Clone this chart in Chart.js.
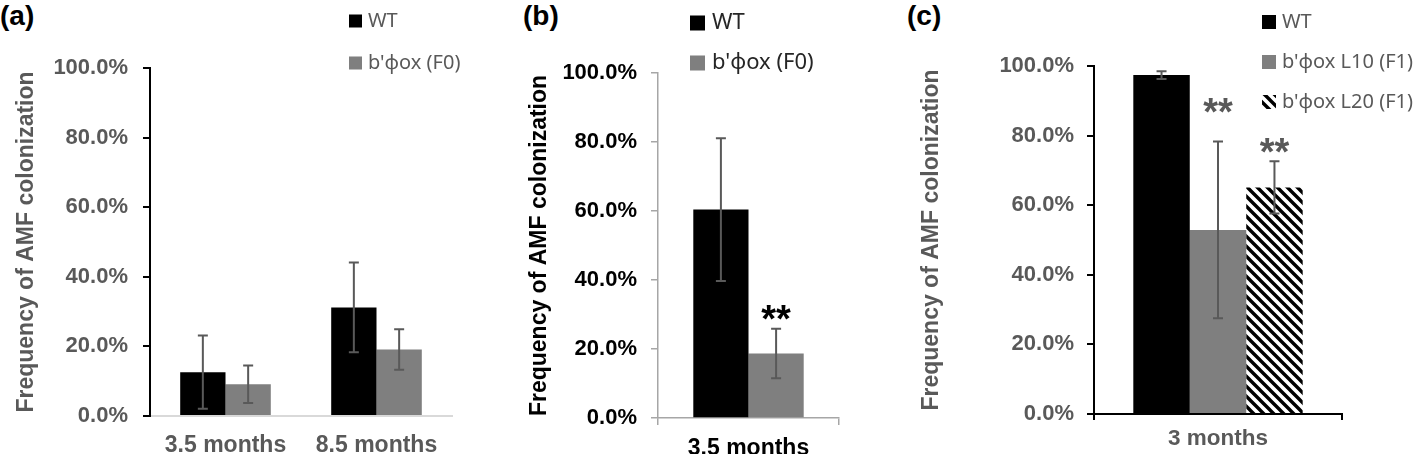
<!DOCTYPE html>
<html>
<head>
<meta charset="utf-8">
<script src="https://cdn.jsdelivr.net/npm/chart.js@4.4.1/dist/chart.umd.min.js"></script>
<style>
  body { margin: 0; background: #fff; width: 1417px; height: 454px; position: relative; overflow: hidden; }
  .panel { position: absolute; top: 0; height: 454px; }
  .panel canvas { display: block; }
  .tag { position: absolute; top: 0; font: bold 28px "Liberation Sans", Arial, sans-serif; color: #000; line-height: 32px; }
</style>
</head>
<body>
<div class="tag" style="left:0">(a)</div>
<div class="tag" style="left:523px">(b)</div>
<div class="tag" style="left:907px">(c)</div>
<div class="panel" style="left:0;width:500px"><canvas id="grafA" width="500" height="454"></canvas></div>
<div class="panel" style="left:510px;width:390px"><canvas id="grafB" width="390" height="454"></canvas></div>
<div class="panel" style="left:900px;width:517px"><canvas id="grafC" width="517" height="454"></canvas></div>
<script>
// etiquetas del eje y
const ticksY = ['0.0%', '20.0%', '40.0%', '60.0%', '80.0%', '100.0%'];
const tituloY = 'Frequency of AMF colonization';

// panel (a)
const categoriasA = ['3.5 months', '8.5 months'];
const wtA = [12.6, 31.2];
const wtErrA = [10.5, 12.9];
const f0A = [9.1, 19.1];
const f0ErrA = [5.4, 5.8];

// panel (b)
const categoriasB = ['3.5 months'];
const wtB = [60.4];
const wtErrB = [20.7];
const f0B = [18.7];
const f0ErrB = [7.2];
const sigF0B = ['**'];

// panel (c)
const categoriasC = ['3 months'];
const wtC = [97.4];
const wtErrC = [1.1];
const l10C = [52.9];
const l10ErrC = [25.4];
const l20C = [65.1];
const l20ErrC = [7.5];
const sigL10C = ['**'];
const sigL20C = ['**'];

// colores
const negro = '#000000';
const gris = '#7f7f7f';
const grisTexto = '#595959';

Chart.defaults.font.family = '"Liberation Sans", Arial, sans-serif';

// relleno rayado para L20
function rayado() {
  const c = document.createElement('canvas');
  c.width = 10; c.height = 10;
  const g = c.getContext('2d');
  g.fillStyle = '#fff';
  g.fillRect(0, 0, 10, 10);
  g.strokeStyle = '#000';
  g.lineWidth = 3.4;
  g.beginPath();
  g.moveTo(-5, -5); g.lineTo(15, 15);
  g.moveTo(-5, 5); g.lineTo(5, 15);
  g.moveTo(5, -5); g.lineTo(15, 5);
  g.stroke();
  return g.createPattern(c, 'repeat');
}

// barras de error
const barrasError = {
  id: 'barrasError',
  afterDatasetsDraw(chart, args, o) {
    const { ctx } = chart;
    const y = chart.scales.y;
    ctx.save();
    ctx.strokeStyle = o.color;
    ctx.lineWidth = 2;
    chart.data.datasets.forEach((ds, i) => {
      if (!ds.errores) return;
      chart.getDatasetMeta(i).data.forEach((bar, j) => {
        const v = ds.data[j], e = ds.errores[j];
        const y1 = y.getPixelForValue(v + e), y2 = y.getPixelForValue(v - e);
        const x = bar.x, c = 5;
        ctx.beginPath();
        ctx.moveTo(x, y1); ctx.lineTo(x, y2);
        ctx.moveTo(x - c, y1); ctx.lineTo(x + c, y1);
        ctx.moveTo(x - c, y2); ctx.lineTo(x + c, y2);
        ctx.stroke();
      });
    });
    ctx.restore();
  }
};

// asteriscos de significancia
const estrellas = {
  id: 'estrellas',
  afterDatasetsDraw(chart, args, o) {
    const { ctx } = chart;
    const y = chart.scales.y;
    ctx.save();
    ctx.fillStyle = o.color;
    ctx.font = 'bold 38px "Liberation Sans", Arial, sans-serif';
    ctx.textAlign = 'center';
    ctx.textBaseline = 'alphabetic';
    chart.data.datasets.forEach((ds, i) => {
      if (!ds.sig) return;
      chart.getDatasetMeta(i).data.forEach((bar, j) => {
        if (!ds.sig[j]) return;
        const tope = y.getPixelForValue(ds.data[j] + ds.errores[j]);
        const centro = tope - (o.lift[i] || 18);
        ctx.fillText(ds.sig[j], bar.x, centro + 0.57 * 38);
      });
    });
    ctx.restore();
  }
};

// leyenda vertical arriba a la derecha
const leyenda = {
  id: 'leyenda',
  afterDraw(chart, args, o) {
    const { ctx } = chart;
    ctx.save();
    ctx.font = o.font;
    ctx.textBaseline = 'middle';
    chart.data.datasets.forEach((ds, i) => {
      const yc = o.top + i * o.gap;
      ctx.fillStyle = ds.backgroundColor;
      ctx.fillRect(o.x, yc - o.box / 2, o.box, o.box);
      ctx.fillStyle = o.color;
      ctx.fillText(ds.label, o.x + o.box + o.sep, yc);
    });
    ctx.restore();
  }
};

function panel(id, cfg) {
  return new Chart(document.getElementById(id), {
    type: 'bar',
    data: { labels: cfg.labels, datasets: cfg.datasets },
    options: {
      responsive: false,
      animation: false,
      layout: { padding: { top: cfg.top, right: cfg.right, left: 0, bottom: 0 } },
      datasets: { bar: { categoryPercentage: cfg.catPct, barPercentage: 1 } },
      plugins: {
        legend: { display: false },
        tooltip: { enabled: false },
        barrasError: { color: grisTexto },
        estrellas: { color: cfg.starColor, lift: cfg.lift || [] },
        leyenda: cfg.leyenda
      },
      scales: {
        x: {
          afterFit: s => { s.height = cfg.xHeight; },
          grid: cfg.xGrid,
          border: cfg.xBorder,
          ticks: { color: cfg.texto, font: { size: cfg.xFont, weight: 'bold' }, padding: cfg.xPad }
        },
        y: {
          min: 0, max: 100,
          afterFit: s => { s.width = cfg.yWidth; },
          grid: { drawOnChartArea: false, color: cfg.eje, lineWidth: cfg.ancho, tickLength: 7 },
          border: { color: cfg.eje, width: cfg.ancho },
          ticks: {
            stepSize: 20, padding: cfg.yPad,
            color: cfg.texto, font: { size: 22, weight: 'bold' },
            callback: (v, i) => ticksY[i]
          },
          title: {
            display: true, text: tituloY, color: cfg.texto,
            font: { size: 23, weight: 'bold' }, padding: { top: cfg.titlePad, bottom: 0 }
          }
        }
      }
    },
    plugins: [barrasError, estrellas, leyenda]
  });
}

panel('grafA', {
  labels: categoriasA,
  datasets: [
    { label: 'WT', data: wtA, errores: wtErrA, backgroundColor: negro },
    { label: "b'ϕox (F0)", data: f0A, errores: f0ErrA, backgroundColor: gris }
  ],
  top: 68, right: 48, yWidth: 150, xHeight: 38, catPct: 0.6,
  texto: grisTexto, eje: negro, ancho: 2, yPad: 15, xPad: 8, xFont: 23, titlePad: 13,
  xGrid: { display: false },
  xBorder: { color: '#d9d9d9', width: 2 },
  starColor: negro,
  leyenda: { x: 349, top: 21, gap: 42, box: 13, sep: 6, color: grisTexto, font: '20px "Noto Sans", sans-serif' }
});

panel('grafB', {
  labels: categoriasB,
  datasets: [
    { label: 'WT', data: wtB, errores: wtErrB, backgroundColor: negro },
    { label: "b'ϕox (F0)", data: f0B, errores: f0ErrB, sig: sigF0B, backgroundColor: gris }
  ],
  top: 73, right: 61, yWidth: 148, xHeight: 36, catPct: 0.61,
  texto: negro, eje: '#a6a6a6', ancho: 1.5, yPad: 14, xPad: 10, xFont: 23, titlePad: 16,
  xGrid: { drawOnChartArea: false, color: '#a6a6a6', lineWidth: 1.5, tickLength: 7 },
  xBorder: { color: '#a6a6a6', width: 1.5 },
  starColor: negro, lift: [0, 18],
  leyenda: { x: 180, top: 23, gap: 40, box: 15, sep: 7, color: '#262626', font: '22px "Noto Sans", sans-serif' }
});

panel('grafC', {
  labels: categoriasC,
  datasets: [
    { label: 'WT', data: wtC, errores: wtErrC, backgroundColor: negro },
    { label: "b'ϕox L10 (F1)", data: l10C, errores: l10ErrC, sig: sigL10C, backgroundColor: gris },
    { label: "b'ϕox L20 (F1)", data: l20C, errores: l20ErrC, sig: sigL20C, backgroundColor: rayado() }
  ],
  top: 66, right: 75, yWidth: 194, xHeight: 40, catPct: 0.683,
  texto: grisTexto, eje: negro, ancho: 2, yPad: 13, xPad: 5, xFont: 22.5, titlePad: 18,
  xGrid: { drawOnChartArea: false, color: negro, lineWidth: 2, tickLength: 6 },
  xBorder: { color: negro, width: 2 },
  starColor: grisTexto, lift: [0, 38, 18],
  leyenda: { x: 362, top: 22, gap: 40, box: 14, sep: 6, color: grisTexto, font: '20px "Noto Sans", sans-serif' }
});
</script>
</body>
</html>
